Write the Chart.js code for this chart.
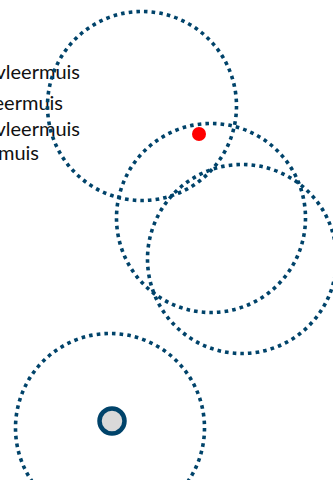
<!DOCTYPE html>
<html>
<head>
<meta charset="utf-8">
<script src="https://cdn.jsdelivr.net/npm/chart.js@4/dist/chart.umd.min.js"></script>
<style>
  html, body { margin: 0; padding: 0; background: #fff; overflow: hidden; }
  #wrap { position: relative; width: 333px; height: 480px; }
  #labels { position: absolute; left: 0; top: 0; width: 333px; height: 480px; pointer-events: none; z-index: 0; }
  .lbl { position: absolute; right: 0; white-space: nowrap; font-family: Lato, "Open Sans", sans-serif; font-size: 20px; color: #111; line-height: 1; }
  canvas { position: relative; z-index: 1; }
</style>
</head>
<body>
<div id="wrap">
  <div id="labels"></div>
  <canvas id="c" width="333" height="480"></canvas>
</div>
<script>
// Legend labels (cut off at the left edge in the reference)
const legendLabels = ["Gewone dwergvleermuis", "Watervleermuis", "Ruige dwergvleermuis", "Meervleermuis"];
// Range circles: x / y positions
const rangeX = [142, 211, 242, 110];
const rangeY = [106, 218, 259, 428];
// Observation points
const redX = [199];
const redY = [134];
const greyX = [112];
const greyY = [421];

// legend text placement (right edge, top)
const labelRight = [80, 63, 80, 39];
const labelTop = [61, 92, 118, 142];
const lblBox = document.getElementById('labels');
legendLabels.forEach((t, i) => {
  const d = document.createElement('div');
  d.className = 'lbl';
  d.textContent = t;
  d.style.right = (333 - labelRight[i]) + 'px';
  d.style.top = labelTop[i] + 'px';
  lblBox.appendChild(d);
});

const toPts = (xs, ys) => xs.map((x, i) => ({ x: x, y: ys[i] }));

const dashPlugin = {
  id: 'dashPlugin',
  beforeDatasetDraw(chart, args) {
    const ds = chart.data.datasets[args.index];
    if (ds.dotted) { chart.ctx.save(); chart.ctx.setLineDash([3.6, 4.1]); }
  },
  afterDatasetDraw(chart, args) {
    const ds = chart.data.datasets[args.index];
    if (ds.dotted) chart.ctx.restore();
  }
};

new Chart(document.getElementById('c'), {
  type: 'scatter',
  data: {
    datasets: [
      {
        label: 'rood',
        data: toPts(redX, redY),
        pointRadius: 7,
        backgroundColor: '#ff0000',
        borderColor: '#ff0000',
        borderWidth: 0,
        clip: false
      },
      {
        label: 'grijs',
        data: toPts(greyX, greyY),
        pointRadius: 12.5,
        backgroundColor: '#d9d9d9',
        borderColor: '#00436a',
        borderWidth: 4.5,
        clip: false
      },
      {
        label: 'bereik',
        dotted: true,
        data: toPts(rangeX, rangeY),
        pointRadius: 94.5,
        backgroundColor: 'rgba(0,0,0,0)',
        borderColor: '#00436a',
        borderWidth: 3.6,
        clip: false
      }
    ]
  },
  options: {
    responsive: false,
    animation: false,
    events: [],
    layout: { padding: 0, autoPadding: false },
    plugins: { legend: { display: false }, tooltip: { enabled: false } },
    scales: {
      x: { type: 'linear', min: 0, max: 333, display: false },
      y: { type: 'linear', min: 0, max: 480, reverse: true, display: false }
    }
  },
  plugins: [dashPlugin]
});
</script>
</body>
</html>
